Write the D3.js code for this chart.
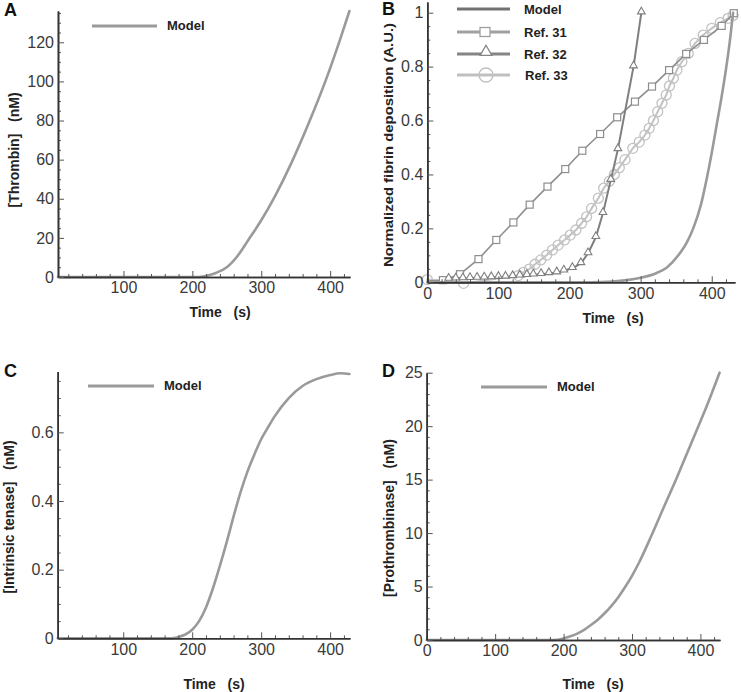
<!DOCTYPE html>
<html>
<head>
<meta charset="utf-8">
<script src="https://cdn.jsdelivr.net/npm/d3@7"></script>
<style>
  body { margin: 0; background: #fff; }
  svg { display: block; }
  text { font-family: "Liberation Sans", Arial, Helvetica, sans-serif; }
</style>
</head>
<body>
<svg id="fig" width="741" height="692"></svg>
<script>
// ---- values ----
// A: thrombin
const thrombinTime = [5, 205, 215, 225, 235, 250, 265, 281, 300, 320, 344, 370, 393, 414, 428];
const thrombinNM   = [0, 0, 0.3, 1, 2.2, 5, 10.5, 18.8, 29, 41.4, 58.5, 79.6, 100, 121, 136];

// B: normalized fibrin deposition
const fibrinModelTime = [0, 230, 260, 280, 300, 320, 337, 353, 365, 374, 385, 393, 400, 407, 414, 420, 425, 430];
const fibrinModel     = [0, 0, 0.003, 0.008, 0.017, 0.032, 0.055, 0.1, 0.148, 0.2, 0.29, 0.385, 0.48, 0.585, 0.69, 0.79, 0.885, 1.0];

const ref31Time = [0, 22, 46, 72, 97, 121, 144, 169, 194, 218, 243, 267, 292, 316, 340, 364, 389, 414, 431];
const ref31     = [0.005, 0.008, 0.03, 0.086, 0.157, 0.222, 0.288, 0.355, 0.42, 0.488, 0.55, 0.612, 0.67, 0.726, 0.787, 0.847, 0.899, 0.951, 0.998];

const ref32Time = [30, 40, 50, 60, 70, 80, 90, 100, 110, 120, 130, 140, 149, 160, 171, 182, 192, 204, 216, 226, 237, 247, 258, 268, 290, 301];
const ref32     = [0.012, 0.013, 0.014, 0.015, 0.016, 0.017, 0.018, 0.019, 0.02, 0.022, 0.024, 0.026, 0.028, 0.03, 0.033, 0.036, 0.043, 0.052, 0.07, 0.107, 0.167, 0.256, 0.379, 0.493, 0.8, 1.0];

const ref33Time = [0, 51, 128, 135, 143.5, 151.5, 159.5, 168, 176, 184, 193, 201, 209, 217, 224, 231, 240.5, 248, 256, 263, 270, 278, 289, 298, 306, 312, 318, 324, 330, 336, 340.5, 346, 351, 358, 367, 376.5, 388, 400, 412, 423, 430];
const ref33     = [0.01, -0.004, 0.025, 0.037, 0.049, 0.067, 0.083, 0.101, 0.12, 0.138, 0.157, 0.175, 0.194, 0.219, 0.243, 0.274, 0.312, 0.349, 0.375, 0.4, 0.425, 0.455, 0.497, 0.52, 0.546, 0.571, 0.6, 0.633, 0.664, 0.695, 0.728, 0.757, 0.787, 0.818, 0.849, 0.886, 0.917, 0.942, 0.963, 0.979, 0.99];

// C: intrinsic tenase
const tenaseTime = [5, 170, 180, 190, 200, 210, 220, 230, 240, 250, 260, 270, 280, 290, 300, 310, 320, 340, 360, 380, 400, 415, 428];
const tenaseNM   = [0, 0, 0.004, 0.011, 0.025, 0.05, 0.09, 0.145, 0.21, 0.28, 0.355, 0.425, 0.485, 0.535, 0.58, 0.615, 0.648, 0.7, 0.735, 0.755, 0.767, 0.772, 0.77];

// D: prothrombinase
const prothTime = [0, 185, 200, 210, 220, 230, 240, 250, 260, 270, 280, 290, 300, 310, 328, 345, 365, 380, 397, 410, 428];
const prothNM   = [0, 0, 0.15, 0.35, 0.6, 0.95, 1.4, 1.9, 2.5, 3.2, 4.0, 4.95, 6.0, 7.2, 9.7, 12.2, 15.1, 17.4, 20, 22, 25];

// tick labels
const timeTicksA = [100, 200, 300, 400];
const timeTicksB = [0, 100, 200, 300, 400];
const thrombinTicks = [0, 20, 40, 60, 80, 100, 120];
const fibrinTicks = [0, 0.2, 0.4, 0.6, 0.8, 1];
const tenaseTicks = [0, 0.2, 0.4, 0.6];
const prothTicks = [0, 5, 10, 15, 20, 25];

const svg = d3.select("#fig");
const axisColor = "#333";

function zip(t, v) { return t.map((d, i) => ({ t: d, v: v[i] })); }

function minorTicks(lo, hi, step, majors) {
  return d3.range(lo, hi + step / 2, step)
    .map(d => +d.toFixed(4))
    .filter(d => !majors.some(m => Math.abs(m - d) < 1e-6));
}

function drawAxes(x, y, o) {
  const g = svg.append("g");
  const bottom = y.range()[0];
  const left = x.range()[0];

  // minor ticks
  g.append("g").attr("transform", `translate(0,${bottom})`)
    .call(d3.axisBottom(x).tickValues(o.xMinor).tickSize(-3).tickSizeOuter(0).tickFormat(""));
  g.append("g").attr("transform", `translate(${left},0)`)
    .call(d3.axisLeft(y).tickValues(o.yMinor).tickSize(-3).tickSizeOuter(0).tickFormat(""));

  // major ticks
  g.append("g").attr("transform", `translate(0,${bottom})`)
    .call(d3.axisBottom(x).tickValues(o.xMajor).tickSize(-6).tickSizeOuter(0).tickPadding(5).tickFormat(d => String(d)));
  g.append("g").attr("transform", `translate(${left},0)`)
    .call(d3.axisLeft(y).tickValues(o.yMajor).tickSize(-6).tickSizeOuter(0).tickPadding(4).tickFormat(d => String(d)));

  g.selectAll("path.domain").attr("stroke", axisColor).attr("stroke-width", 1.6);
  g.selectAll(".tick line").attr("stroke", "#555").attr("stroke-width", 1);
  g.selectAll(".tick text").attr("fill", "#3a3a3a").style("font-size", "16px");

  // titles
  svg.append("text").attr("x", o.xTitle[0]).attr("y", o.xTitle[1])
    .attr("text-anchor", "middle").style("font-size", "14px").style("font-weight", "bold")
    .attr("fill", "#222").attr("xml:space", "preserve").text("Time   (s)");
  const yt = svg.append("text")
    .attr("transform", `translate(${o.yTitle[0]},${o.yTitle[1]}) rotate(-90)`)
    .attr("text-anchor", "middle").attr("dy", "0.35em")
    .style("font-size", o.yTitleSize || "14px").style("font-weight", "bold")
    .attr("fill", "#222").attr("xml:space", "preserve").text(o.yLabel);
  if (o.yTitleLength) yt.attr("textLength", o.yTitleLength).attr("lengthAdjust", "spacingAndGlyphs");
  svg.append("text").attr("x", o.letter[0]).attr("y", o.letter[1])
    .style("font-size", "18px").style("font-weight", "bold").attr("fill", "#111").text(o.letterText);
}

function drawCurve(x, y, data, color, width, curve) {
  const line = d3.line().x(d => x(d.t)).y(d => y(d.v)).curve(curve || d3.curveMonotoneX);
  svg.append("path").datum(data).attr("d", line)
    .attr("fill", "none").attr("stroke", color).attr("stroke-width", width)
    .attr("stroke-linejoin", "round").attr("stroke-linecap", "round");
}

function legendModel(x1, x2, y, color) {
  svg.append("line").attr("x1", x1).attr("x2", x2).attr("y1", y).attr("y2", y)
    .attr("stroke", color).attr("stroke-width", 3);
  svg.append("text").attr("x", x2 + 10).attr("y", y + 4).style("font-size", "13px")
    .style("font-weight", "bold").attr("fill", "#222").text("Model");
}

const modelColor = "#9a9a9a";

// ---------- Panel A ----------
{
  const x = d3.scaleLinear().domain([5, 428.8]).range([58, 350]);
  const y = d3.scaleLinear().domain([0, 136]).range([277, 11]);
  drawCurve(x, y, zip(thrombinTime, thrombinNM), modelColor, 2.6);
  drawAxes(x, y, {
    xMajor: timeTicksA, xMinor: minorTicks(20, 420, 20, timeTicksA),
    yMajor: thrombinTicks, yMinor: minorTicks(5, 135, 5, thrombinTicks),
    xTitle: [220, 317], yTitle: [14, 150], yLabel: "[Thrombin]   (nM)",
    letter: [4, 16], letterText: "A"
  });
  legendModel(92, 157, 26, modelColor);
}

// ---------- Panel B ----------
{
  const x = d3.scaleLinear().domain([0, 432.7]).range([427.3, 735]);
  const y = d3.scaleLinear().domain([0, 1.04]).range([282.3, 1.9]);
  const c31 = "#8e8e8e", c32 = "#7f7f7f", c33 = "#c2c2c2";

  // Ref. 33
  const d33 = zip(ref33Time, ref33);
  drawCurve(x, y, d33, c33, 2, d3.curveLinear);
  svg.append("g").selectAll("circle").data(d33).join("circle")
    .attr("cx", d => x(d.t)).attr("cy", d => y(d.v)).attr("r", 5)
    .attr("fill", "none").attr("stroke", c33).attr("stroke-width", 1.3);

  // Ref. 31
  const d31 = zip(ref31Time, ref31);
  drawCurve(x, y, d31, c31, 1.6, d3.curveLinear);
  svg.append("g").selectAll("rect").data(d31.slice(1)).join("rect")
    .attr("x", d => x(d.t) - 3.5).attr("y", d => y(d.v) - 3.5).attr("width", 7).attr("height", 7)
    .attr("fill", "#fff").attr("stroke", c31).attr("stroke-width", 1.2);

  // Ref. 32
  const d32 = zip(ref32Time, ref32);
  drawCurve(x, y, d32, c32, 2, d3.curveLinear);
  const tri = d3.symbol().type(d3.symbolTriangle).size(26);
  svg.append("g").selectAll("path").data(d32).join("path")
    .attr("d", tri).attr("transform", d => `translate(${x(d.t)},${y(d.v) - 1})`)
    .attr("fill", "#fff").attr("stroke", c32).attr("stroke-width", 1.1);

  // Model
  drawCurve(x, y, zip(fibrinModelTime, fibrinModel), modelColor, 2.6);

  drawAxes(x, y, {
    xMajor: timeTicksB, xMinor: minorTicks(20, 420, 20, timeTicksB),
    yMajor: fibrinTicks, yMinor: minorTicks(0.05, 1.0, 0.05, fibrinTicks),
    xTitle: [613, 323], yTitle: [388.5, 145], yTitleSize: "13px", yTitleLength: 244,
    yLabel: "Normalized fibrin deposition (A.U.)",
    letter: [382, 15], letterText: "B"
  });

  // legend
  const lx1 = 457, lx2 = 510, tx = 524;
  const rows = [
    { label: "Model", y: 9, color: "#727272" },
    { label: "Ref. 31", y: 32, color: "#a0a0a0" },
    { label: "Ref. 32", y: 54, color: "#858585" },
    { label: "Ref. 33", y: 75, color: "#c0c0c0" }
  ];
  rows.forEach(r => {
    svg.append("line").attr("x1", lx1).attr("x2", lx2).attr("y1", r.y).attr("y2", r.y)
      .attr("stroke", r.color).attr("stroke-width", 3);
    svg.append("text").attr("x", tx + (r.label === "Ref. 33" ? 1 : 0)).attr("y", r.y + 4.5)
      .style("font-size", "13px").style("font-weight", "bold").attr("fill", "#222").text(r.label);
  });
  const cx = 485;
  svg.append("rect").attr("x", cx - 5).attr("y", 32 - 4.5).attr("width", 10).attr("height", 9)
    .attr("fill", "#fff").attr("stroke", "#a0a0a0").attr("stroke-width", 1.3);
  svg.append("path").attr("d", d3.symbol().type(d3.symbolTriangle).size(60))
    .attr("transform", `translate(${cx + 1},${54 - 2})`)
    .attr("fill", "#fff").attr("stroke", "#858585").attr("stroke-width", 1.3);
  svg.append("circle").attr("cx", cx + 1).attr("cy", 75).attr("r", 7)
    .attr("fill", "none").attr("stroke", "#c0c0c0").attr("stroke-width", 1.3);
}

// ---------- Panel C ----------
{
  const x = d3.scaleLinear().domain([5, 428.8]).range([57.7, 350]);
  const y = d3.scaleLinear().domain([0, 0.777]).range([638.3, 371.6]);
  drawCurve(x, y, zip(tenaseTime, tenaseNM), modelColor, 2.6);
  drawAxes(x, y, {
    xMajor: timeTicksA, xMinor: minorTicks(20, 420, 20, timeTicksA),
    yMajor: tenaseTicks, yMinor: minorTicks(0.05, 0.75, 0.05, tenaseTicks),
    xTitle: [214, 689], yTitle: [9, 517], yLabel: "[Intrinsic tenase]   (nM)",
    letter: [4, 377], letterText: "C"
  });
  legendModel(88, 154, 386, modelColor);
}

// ---------- Panel D ----------
{
  const x = d3.scaleLinear().domain([0, 428.6]).range([426.7, 720]);
  const y = d3.scaleLinear().domain([0, 25]).range([640, 372.7]);
  drawCurve(x, y, zip(prothTime, prothNM), modelColor, 2.6);
  drawAxes(x, y, {
    xMajor: timeTicksB, xMinor: minorTicks(20, 420, 20, timeTicksB),
    yMajor: prothTicks, yMinor: minorTicks(1, 24, 1, prothTicks),
    xTitle: [593, 689], yTitle: [389, 518], yLabel: "[Prothrombinase]   (nM)",
    letter: [382, 377], letterText: "D"
  });
  legendModel(481, 547, 387, modelColor);
}
</script>
</body>
</html>
